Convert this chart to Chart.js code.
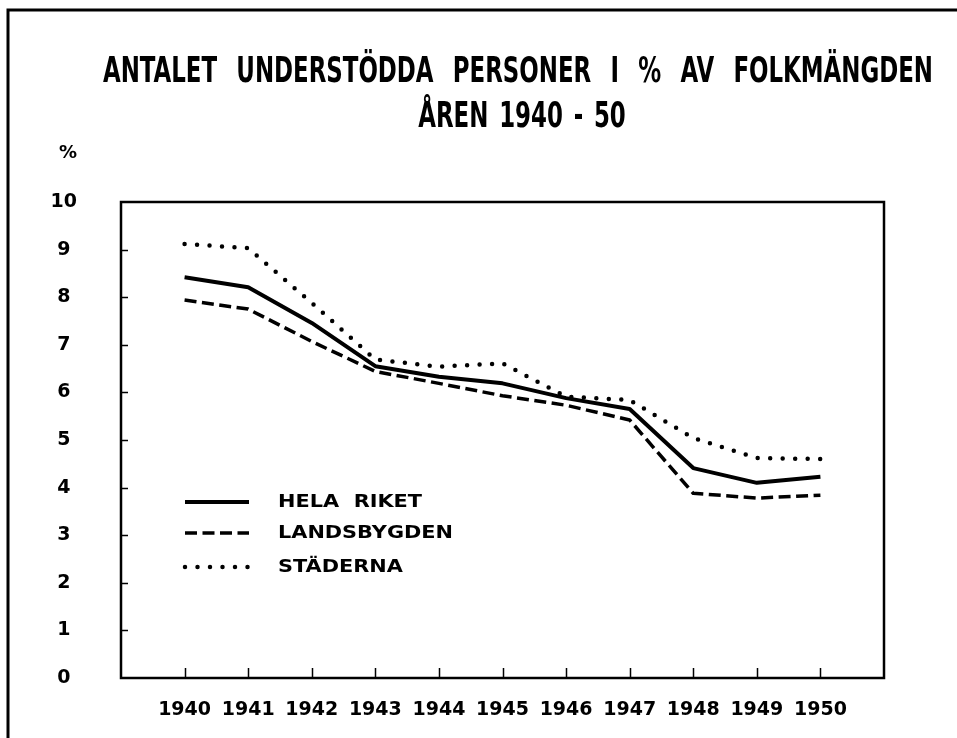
<!DOCTYPE html>
<html>
<head>
<meta charset="utf-8">
<script src="https://cdn.jsdelivr.net/npm/chart.js@4.4.0/dist/chart.umd.min.js"></script>
<style>
  html, body { margin: 0; padding: 0; background: #fff; }
  #wrap { position: relative; width: 957px; height: 738px; }
</style>
</head>
<body>
<div id="wrap"><canvas id="chart" width="957" height="738"></canvas></div>
<script>
const titleLines = ['ANTALET UNDERSTÖDDA PERSONER I % AV FOLKMÄNGDEN', 'ÅREN 1940 - 50'];
const unitLabel = '%';
const years = [1940, 1941, 1942, 1943, 1944, 1945, 1946, 1947, 1948, 1949, 1950];
const yTicks = [0, 1, 2, 3, 4, 5, 6, 7, 8, 9, 10];
const seriesNames = ['HELA RIKET', 'LANDSBYGDEN', 'STÄDERNA'];
const helaRiket   = [8.42, 8.21, 7.46, 6.55, 6.33, 6.19, 5.88, 5.65, 4.41, 4.10, 4.23];
const landsbygden = [7.94, 7.75, 7.07, 6.44, 6.19, 5.93, 5.73, 5.42, 3.88, 3.78, 3.84];
const staderna    = [9.12, 9.03, 7.88, 6.69, 6.54, 6.61, 5.91, 5.84, 5.04, 4.62, 4.60];

const lineStyles = [
    { borderWidth: 4, borderDash: [], borderCapStyle: 'butt' },
    { borderWidth: 3.5, borderDash: [12, 5.5], borderCapStyle: 'butt' },
    { borderWidth: 4.5, borderDash: [0, 12.5], borderCapStyle: 'round' }
];

const toPoints = vals => years.map((yr, i) => ({ x: yr, y: vals[i] }));

// frame, inner ticks, title and legend drawn around the chart
const paperPlugin = {
    id: 'paper',
    beforeDraw(chart) {
        const ctx = chart.ctx;
        ctx.save();
        ctx.fillStyle = '#fff';
        ctx.fillRect(0, 0, chart.width, chart.height);
        ctx.restore();
    },
    afterDraw(chart) {
        const { ctx, chartArea: a, scales: { x, y } } = chart;
        ctx.save();
        ctx.strokeStyle = '#000';
        ctx.fillStyle = '#000';

        // sheet edge
        ctx.lineWidth = 3;
        ctx.beginPath();
        ctx.moveTo(8, chart.height);
        ctx.lineTo(8, 10);
        ctx.lineTo(chart.width, 10);
        ctx.stroke();

        // plot box
        ctx.lineWidth = 2.5;
        ctx.strokeRect(a.left, a.top, a.width, a.height);

        // inward ticks
        ctx.lineWidth = 1.5;
        ctx.beginPath();
        yTicks.slice(1, -1).forEach(v => {
            const py = Math.round(y.getPixelForValue(v)) + 0.5;
            ctx.moveTo(a.left, py);
            ctx.lineTo(a.left + 7, py);
        });
        years.forEach(v => {
            const px = Math.round(x.getPixelForValue(v)) + 0.5;
            ctx.moveTo(px, a.bottom);
            ctx.lineTo(px, a.bottom - 10);
        });
        ctx.stroke();

        // title
        ctx.font = 'bold 36px "DejaVu Sans Condensed", "DejaVu Sans"';
        ctx.textAlign = 'center';
        ctx.textBaseline = 'alphabetic';
        ctx.wordSpacing = '16px';
        const sx = 830 / ctx.measureText(titleLines[0]).width;
        ctx.save();
        ctx.scale(sx, 1);
        ctx.fillText(titleLines[0], 518 / sx, 82);
        ctx.wordSpacing = '4px';
        ctx.fillText(titleLines[1], 522 / sx, 127);
        ctx.restore();

        // unit label
        ctx.font = 'bold 18px "DejaVu Sans"';
        ctx.wordSpacing = '0px';
        ctx.textBaseline = 'middle';
        ctx.fillText(unitLabel, 68, 153);

        // legend
        const legendY = [502, 533, 567];
        chart.data.datasets.forEach((ds, i) => {
            const ly = legendY[i];
            ctx.save();
            ctx.lineWidth = ds.borderWidth;
            ctx.setLineDash(ds.borderDash);
            ctx.lineCap = ds.borderCapStyle;
            ctx.beginPath();
            ctx.moveTo(185, ly);
            ctx.lineTo(249, ly);
            ctx.stroke();
            ctx.restore();
        });
        ctx.font = '900 17px "DejaVu Sans"';
        ctx.wordSpacing = '6px';
        ctx.textAlign = 'left';
        ctx.textBaseline = 'middle';
        const lx = 175 / ctx.measureText(seriesNames[1]).width;
        ctx.save();
        ctx.scale(lx, 1);
        seriesNames.forEach((name, i) => ctx.fillText(name, 278 / lx, legendY[i] + 1));
        ctx.restore();

        ctx.restore();
    }
};

new Chart(document.getElementById('chart'), {
    type: 'line',
    data: {
        datasets: [helaRiket, landsbygden, staderna].map((vals, i) => ({
            label: seriesNames[i],
            data: toPoints(vals),
            borderColor: '#000',
            backgroundColor: '#000',
            pointRadius: 0,
            tension: 0,
            fill: false,
            borderJoinStyle: 'round',
            ...lineStyles[i]
        }))
    },
    options: {
        responsive: false,
        animation: false,
        devicePixelRatio: 1,
        layout: { padding: { top: 202, right: 73, bottom: 0, left: 0 } },
        plugins: {
            legend: { display: false },
            title: { display: false },
            tooltip: { enabled: false }
        },
        scales: {
            x: {
                type: 'linear',
                min: 1939,
                max: 1951,
                afterBuildTicks: s => { s.ticks = years.map(v => ({ value: v })); },
                afterFit: s => { s.height = 60; },
                grid: { display: false },
                border: { display: false },
                ticks: {
                    color: '#000',
                    padding: 13,
                    maxRotation: 0,
                    autoSkip: false,
                    callback: v => String(v),
                    font: { family: '"DejaVu Sans"', size: 19, weight: 'bold' }
                }
            },
            y: {
                min: 0,
                max: 10,
                afterBuildTicks: s => { s.ticks = yTicks.map(v => ({ value: v })); },
                afterFit: s => { s.width = 121; },
                grid: { display: false },
                border: { display: false },
                ticks: {
                    color: '#000',
                    padding: 36,
                    crossAlign: 'center',
                    font: { family: '"DejaVu Sans"', size: 19, weight: 'bold' }
                }
            }
        }
    },
    plugins: [paperPlugin]
});
</script>
</body>
</html>
